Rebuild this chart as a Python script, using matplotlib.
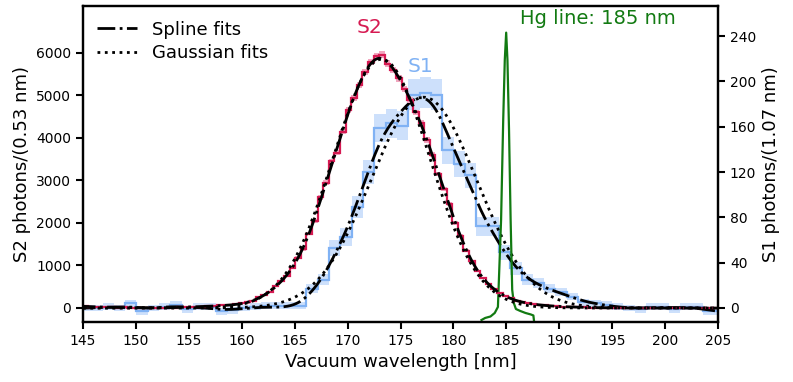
import numpy as np
import matplotlib
matplotlib.use("Agg")
import matplotlib.pyplot as plt
from matplotlib.lines import Line2D

# ---------------- data ----------------
s2_start, s2_width = 144.9, 0.53
s2_counts = [40, 30, 20, 25, 15, 20, 10, 15, 5, 10, 0, 5, 0, 10, 0, 5, 10, 15, 20, 30,
             25, 35, 45, 40, 60, 70, 65, 90, 110, 130, 160, 250, 310, 380, 520, 640, 760, 950,
             1180, 1380, 1750, 2050, 2600, 2950, 3450, 3650, 4150, 4650, 4950, 5250, 5550,
             5780, 5920, 5960, 5750, 5600, 5400, 5150, 4900, 4600, 4350, 3950, 3600, 3150,
             2800, 2450, 2000, 1700, 1350, 1100, 870, 700, 560, 450, 350, 280, 230, 170, 140,
             110, 95, 75, 60, 50, 45, 30, 25, 30, 15, 20, 10, 5, 10, 0, 5, 0, 10, -10, 5, 0,
             10, -5, 0, 5, -10, 0, 10, 0, -5, 5, 10, 0, -10, 0]

s1_start, s1_width = 144.7, 1.07
s1_counts = [0, 0, 1, 0, 4, -3, 0, 1, 3, -1, 1, 1, -3, -2, 0, 1, 2, 2, 2, 2,
             17, 25, 53, 63, 89, 120, 159, 163, 161, 188, 190, 188, 139, 127, 117, 72, 72,
             49, 35, 25, 22, 17, 14, 10, 5, 4, 3, 1, 0, -1, 1, 1, -1, 1, 1, -3, -3]

# Gaussian fit parameters (amplitude, mean, sigma)
s2_gauss = (5850, 173.2, 4.55)
s1_gauss = (186, 177.2, 5.0)

# Hg calibration line (right-axis units)
hg_wl = [182.65, 183.0, 183.5, 183.9, 184.2, 184.5, 184.7, 184.85, 184.98, 185.1,
         185.25, 185.4, 185.55, 185.7, 185.9, 186.3, 186.8, 187.3, 187.55, 187.6]
hg_val = [-10.6, -8.8, -7.5, -4.4, 0.9, 78, 166, 219, 243, 219,
          157, 78, 16, 4.4, -0.9, -2.6, -4.4, -5.7, -6.6, -10.6]

xticks = list(range(145, 206, 5))
left_ticks = list(range(0, 6001, 1000))
right_ticks = list(range(0, 241, 40))

# ---------------- helpers ----------------
def edges_for(start, width, n):
    return start + width * np.arange(n + 1)

def spline_fit(edges, vals, lam):
    """Penalised (cubic-spline-like) smoothing fit of the histogram on a fine grid."""
    centers = 0.5 * (edges[:-1] + edges[1:])
    grid = np.arange(144.5, 205.51, 0.1)
    n = grid.size
    w = np.zeros(n)
    y = np.zeros(n)
    idx = np.clip(np.round((centers - grid[0]) / 0.1).astype(int), 0, n - 1)
    w[idx] = 1.0
    y[idx] = vals
    D = np.diff(np.eye(n), 2, axis=0)
    z = np.linalg.solve(np.diag(w) + lam * D.T @ D, w * y)
    return grid, z

def gauss(x, p):
    a, m, s = p
    return a * np.exp(-0.5 * ((x - m) / s) ** 2)

s2 = np.array(s2_counts, float)
s1 = np.array(s1_counts, float)
e2 = edges_for(s2_start, s2_width, len(s2))
e1 = edges_for(s1_start, s1_width, len(s1))
err2 = np.sqrt(np.maximum(np.abs(s2), 600))
err1 = np.sqrt(np.maximum(np.abs(s1), 9))

# ---------------- figure ----------------
fig = plt.figure(figsize=(7.93, 3.82), dpi=100)
ax = fig.add_axes([0.1047, 0.157, 0.8008, 0.827])
ax2 = ax.twinx()
ax.set_zorder(ax2.get_zorder() + 1)
ax.patch.set_visible(False)

red = '#d61a52'
blue = '#80b2f4'

# S1 (right axis)
ax2.stairs(s1 + err1, e1, baseline=s1 - err1, fill=True, color='#cde0fb', lw=0)
ax2.stairs(s1, e1, color=blue, lw=1.6)
g1x, g1y = spline_fit(e1, s1, 1500)
ax2.plot(g1x, g1y, color='black', ls='-.', lw=2)
xx = np.linspace(145, 205, 600)
ax2.plot(xx, gauss(xx, s1_gauss), color='black', ls=':', lw=2)
ax2.plot(hg_wl, hg_val, color='#127a12', lw=1.6)

# S2 (left axis)
ax.stairs(s2 + err2, e2, baseline=s2 - err2, fill=True, color='#f2a6bf', lw=0)
ax.stairs(s2, e2, color=red, lw=1.6)
g2x, g2y = spline_fit(e2, s2, 600)
ax.plot(g2x, g2y, color='black', ls='-.', lw=2)
ax.plot(xx, gauss(xx, s2_gauss), color='black', ls=':', lw=2)

# labels / text
ax.text(172.1, 6590, 'S2', color=red, fontsize=14.5, ha='center', va='center')
ax.text(176.9, 5670, 'S1', color=blue, fontsize=14.5, ha='center', va='center')
ax.text(186.3, 6800, 'Hg line: 185 nm', color='#127a12', fontsize=14, ha='left', va='center')

handles = [Line2D([], [], color='black', ls='-.', lw=2),
           Line2D([], [], color='black', ls=':', lw=2)]
ax.legend(handles, ['Spline fits', 'Gaussian fits'], loc='upper left', frameon=False,
          fontsize=13, handlelength=2.2, borderaxespad=0.4, labelspacing=0.3,
          bbox_to_anchor=(0.0, 1.0))

ax.set_xlim(145, 205)
ax.set_ylim(-330, 7100)
ax2.set_ylim(-12.4, 266.4)
ax.set_xticks(xticks)
ax.set_yticks(left_ticks)
ax2.set_yticks(right_ticks)
ax.set_xlabel('Vacuum wavelength [nm]', fontsize=13)
ax.set_ylabel('S2 photons/(0.53 nm)', fontsize=13)
ax2.set_ylabel('S1 photons/(1.07 nm)', fontsize=13)

for a in (ax, ax2):
    for sp in a.spines.values():
        sp.set_linewidth(1.6)
    a.tick_params(labelsize=10, width=1.5, length=5)

fig.savefig('out.png', dpi=100)
